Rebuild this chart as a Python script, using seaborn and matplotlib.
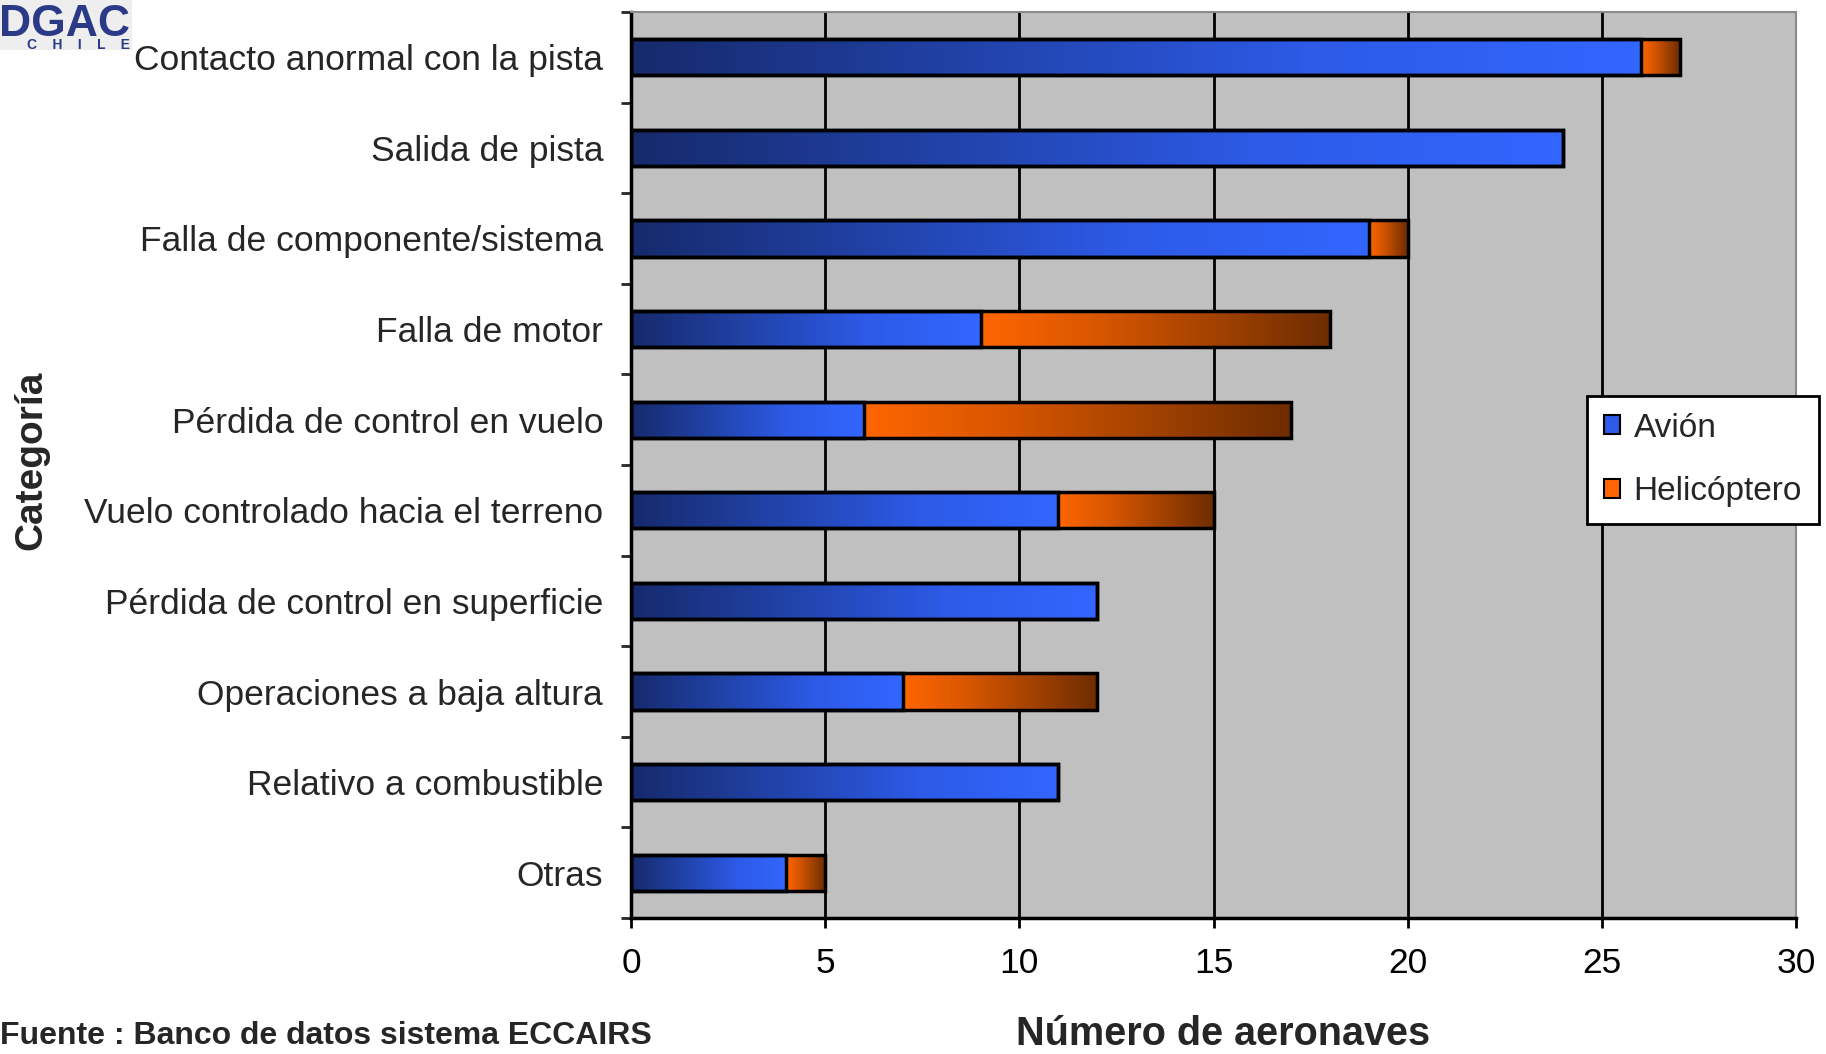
import numpy as np
import pandas as pd
import matplotlib
matplotlib.use("Agg")
import matplotlib.pyplot as plt
import seaborn as sns
from matplotlib.colors import LinearSegmentedColormap
from matplotlib.patches import Patch, Rectangle
from matplotlib.ticker import FixedLocator

# Accidentes por categoría y tipo de aeronave
categorias = [
    "Contacto anormal con la pista",
    "Salida de pista",
    "Falla de componente/sistema",
    "Falla de motor",
    "Pérdida de control en vuelo",
    "Vuelo controlado hacia el terreno",
    "Pérdida de control en superficie",
    "Operaciones a baja altura",
    "Relativo a combustible",
    "Otras",
]
avion = [26, 24, 19, 9, 6, 11, 12, 7, 11, 4]
helicoptero = [1, 0, 1, 9, 11, 4, 0, 5, 0, 1]
x_ticks = [0, 5, 10, 15, 20, 25, 30]

sns.set_style("white")
plt.rcParams["font.family"] = ["Liberation Sans", "DejaVu Sans"]

df = pd.DataFrame({"Categoría": categorias, "Avión": avion, "Helicóptero": helicoptero})
df["Total"] = df["Avión"] + df["Helicóptero"]

W, H = 1826, 1054
fig = plt.figure(figsize=(W / 100, H / 100), dpi=100)
left, right, top, bottom = 631, 1796, 12, 918
ax = fig.add_axes([left / W, 1 - bottom / H, (right - left) / W, (bottom - top) / H])
ax.set_facecolor("#c0c0c0")

# stacked bars: full total first, plane share on top of it
sns.barplot(data=df, x="Total", y="Categoría", order=categorias, color="#ff6600",
            width=0.4, errorbar=None, orient="h", ax=ax)
n = len(ax.patches)
sns.barplot(data=df, x="Avión", y="Categoría", order=categorias, color="#3366ff",
            width=0.4, errorbar=None, orient="h", ax=ax)
total_bars = ax.patches[:n]
avion_bars = ax.patches[n:]

blue_cmap = LinearSegmentedColormap.from_list("avion", ["#162a6c", "#2142a8", "#2d5ae6", "#3366ff"])
orange_cmap = LinearSegmentedColormap.from_list("heli", ["#ff6600", "#d85600", "#a34200", "#6e2c00"])
grad = np.linspace(0, 1, 256)[None, :]

for tb, ab in zip(total_bars, avion_bars):
    y0, hh = ab.get_y(), ab.get_height()
    x0, x1 = ab.get_x(), ab.get_x() + ab.get_width()
    xt = tb.get_x() + tb.get_width()
    if x1 > x0:
        ax.imshow(grad, cmap=blue_cmap, extent=[x0, x1, y0 + hh, y0],
                  aspect="auto", zorder=2, interpolation="bilinear")
    if xt > x1:
        ax.imshow(grad, cmap=orange_cmap, extent=[x1, xt, y0 + hh, y0],
                  aspect="auto", zorder=2, interpolation="bilinear")

for p in ax.patches:
    p.set_facecolor("none")
    p.set_edgecolor("black")
    p.set_linewidth(2.5)
    p.set_zorder(3)

ax.set_xlim(0, 30)
ax.set_ylim(len(categorias) - 0.5, -0.5)
ax.set_xticks(x_ticks)
ax.set_xticklabels([str(t) for t in x_ticks])

ax.xaxis.grid(True, color="black", linewidth=2)
ax.yaxis.grid(False)
ax.set_axisbelow(True)

for s in ("left", "bottom"):
    ax.spines[s].set_color("black")
    ax.spines[s].set_linewidth(2.5)
for s in ("top", "right"):
    ax.spines[s].set_color("#8a8a8a")
    ax.spines[s].set_linewidth(1.5)

ax.tick_params(axis="x", bottom=True, direction="out", length=7, width=2,
               labelsize=25.5, pad=14, colors="black")
ax.yaxis.set_minor_locator(FixedLocator(np.arange(-0.5, len(categorias), 1)))
ax.tick_params(axis="y", which="major", left=True, length=0, pad=20, labelsize=25.5)
ax.tick_params(axis="y", which="minor", left=True, direction="out", length=7, width=2)
ax.set_xlabel("")
ax.set_ylabel("")

# legend
handles = [Patch(facecolor="#2d5ae6", edgecolor="black", linewidth=1.5, label="Avión"),
           Patch(facecolor="#ff6600", edgecolor="black", linewidth=1.5, label="Helicóptero")]
leg = ax.legend(handles=handles, loc="upper left",
                bbox_to_anchor=(1587 / W, 1 - 396 / H), bbox_transform=fig.transFigure,
                fontsize=24, frameon=True, fancybox=False, shadow=False,
                borderpad=0.5, labelspacing=0.98, handlelength=0.5, handleheight=0.5,
                handletextpad=0.4, borderaxespad=0)
leg.get_frame().set_edgecolor("black")
leg.get_frame().set_linewidth(2)
leg.get_frame().set_facecolor("white")
leg.get_frame().set_alpha(1)

# axis titles and source note
fig.text(31 / W, 1 - 460 / H, "Categoría", rotation=90, ha="center", va="center",
         fontsize=28, fontweight="bold")
fig.text(1223 / W, 9 / H, "Número de aeronaves", ha="center", va="baseline",
         fontsize=28.5, fontweight="bold")
fig.text(0.0, 10 / H, "Fuente : Banco de datos sistema ECCAIRS", ha="left", va="baseline",
         fontsize=23, fontweight="bold")

# institutional mark
fig.patches.append(Rectangle((0, 1 - 50 / H), 132 / W, 50 / H, transform=fig.transFigure,
                             facecolor="#eeeeee", edgecolor="none", zorder=0))
fig.text(130 / W, 1 - 36 / H, "DGAC", ha="right", va="baseline", fontsize=32,
         fontweight="bold", color="#2b3a86")
fig.text(130 / W, 1 - 49 / H, "C    H    I    L    E", ha="right", va="baseline", fontsize=10,
         fontweight="bold", color="#2b3a86")

fig.savefig("out.png", dpi=100)
